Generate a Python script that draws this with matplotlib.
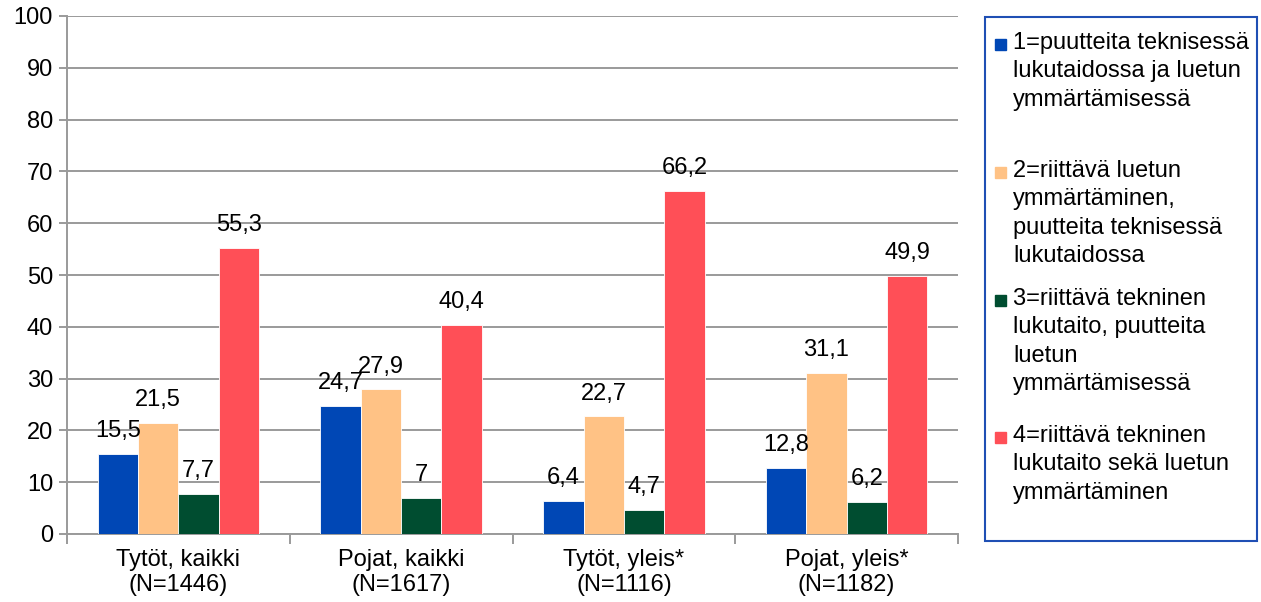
import matplotlib
matplotlib.use("Agg")
import matplotlib.pyplot as plt
from matplotlib.patches import Rectangle
import numpy as np

plt.rcParams['font.family'] = ['Liberation Sans', 'DejaVu Sans']

categories = ["Tytöt, kaikki\n(N=1446)", "Pojat, kaikki\n(N=1617)",
              "Tytöt, yleis*\n(N=1116)", "Pojat, yleis*\n(N=1182)"]
series_names = ["1=puutteita teknisessä\nlukutaidossa ja luetun\nymmärtämisessä",
                "2=riittävä luetun\nymmärtäminen,\npuutteita teknisessä\nlukutaidossa",
                "3=riittävä tekninen\nlukutaito, puutteita\nluetun\nymmärtämisessä",
                "4=riittävä tekninen\nlukutaito sekä luetun\nymmärtäminen"]
s1 = [15.5, 24.7, 6.4, 12.8]
s2 = [21.5, 27.9, 22.7, 31.1]
s3 = [7.7, 7.0, 4.7, 6.2]
s4 = [55.3, 40.4, 66.2, 49.9]
series = [s1, s2, s3, s4]
colors = ["#0047b5", "#ffc285", "#004d30", "#ff4f57"]

FS = 17
W, H = 1261, 602
fig = plt.figure(figsize=(W/100, H/100), dpi=100)
ax = fig.add_axes([67/W, 1-534/H, (958-67)/W, (534-16)/H])

x = np.arange(len(categories))
bw = 0.181
for i, (vals, c) in enumerate(zip(series, colors)):
    pos = x + (i - 1.5) * bw
    ax.bar(pos, vals, bw, color=c, edgecolor='white', linewidth=0.6, zorder=3)
    for p, v in zip(pos, vals):
        lab = (f"{v:.1f}".replace('.', ',')) if v != int(v) else str(int(v))
        ax.annotate(lab, (p, v), xytext=(0, 8.5), textcoords='offset points',
                    ha='center', va='bottom', fontsize=FS, zorder=4)

ax.set_xlim(-0.5, 3.5)
ax.set_ylim(0, 100)
ax.set_yticks(range(0, 101, 10))
ax.yaxis.grid(True, color='#9a9a9a', linewidth=1.4, zorder=0)
ax.set_axisbelow(True)
ax.set_xticks(np.arange(-0.5, 4, 1))
ax.set_xticklabels([])
ax.set_xticks(x, minor=True)
ax.set_xticklabels(categories, minor=True, fontsize=FS, linespacing=1.15)
ax.tick_params(axis='x', which='minor', length=0, pad=11)
ax.tick_params(axis='x', which='major', length=7, width=1.4, color='#9a9a9a')
ax.tick_params(axis='y', length=6, width=1.4, color='#9a9a9a', labelsize=FS, pad=4)
for sp in ['top', 'right']:
    ax.spines[sp].set_visible(False)
for sp in ['left', 'bottom']:
    ax.spines[sp].set_color('#9a9a9a')
    ax.spines[sp].set_linewidth(1.4)

# legend
fig.patches.append(Rectangle((985/W, 1-541/H), (1257-985)/W, (541-17)/H,
                             transform=fig.transFigure, fill=False,
                             edgecolor='#1f4fb4', linewidth=1.5))
entry_y = [44, 172, 300, 437]
for name, c, ey in zip(series_names, colors, entry_y):
    fig.patches.append(Rectangle((995/W, 1-(ey+6)/H), 11/W, 11/H,
                                 transform=fig.transFigure, color=c))
    fig.text(1013/W, 1-(ey-12)/H, name, fontsize=FS, va='top', ha='left',
             linespacing=1.38)

fig.savefig("out.png", dpi=100)
